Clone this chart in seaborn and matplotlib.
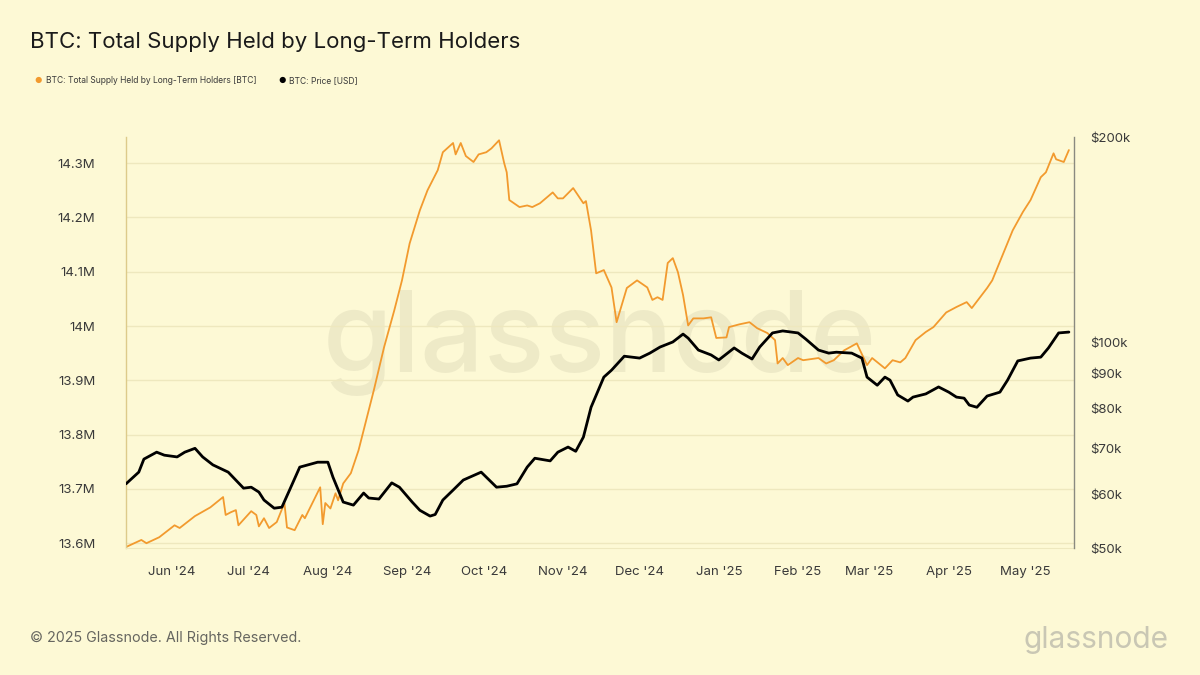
import pandas as pd
import numpy as np
import matplotlib
matplotlib.use("Agg")
import matplotlib.pyplot as plt
import matplotlib.dates as mdates
from matplotlib.ticker import FixedLocator, FixedFormatter, NullLocator
import seaborn as sns

# --- data ---
lth_dates = [
    "2024-05-14", "2024-05-20", "2024-05-22", "2024-05-27", "2024-06-02", "2024-06-04",
    "2024-06-10", "2024-06-16", "2024-06-21", "2024-06-22", "2024-06-24", "2024-06-26",
    "2024-06-27", "2024-07-02", "2024-07-04", "2024-07-05", "2024-07-07", "2024-07-09",
    "2024-07-12", "2024-07-15", "2024-07-16", "2024-07-19", "2024-07-22", "2024-07-23",
    "2024-07-29", "2024-07-30", "2024-07-31", "2024-08-02", "2024-08-04", "2024-08-05",
    "2024-08-07", "2024-08-10", "2024-08-13", "2024-08-15", "2024-08-19", "2024-08-23",
    "2024-08-27", "2024-08-30", "2024-09-02", "2024-09-06", "2024-09-09", "2024-09-13",
    "2024-09-15", "2024-09-19", "2024-09-20", "2024-09-22", "2024-09-24", "2024-09-27",
    "2024-09-29", "2024-10-02", "2024-10-04", "2024-10-07", "2024-10-09", "2024-10-10",
    "2024-10-11", "2024-10-15", "2024-10-18", "2024-10-20", "2024-10-23", "2024-10-28",
    "2024-10-30", "2024-11-01", "2024-11-05", "2024-11-09", "2024-11-10", "2024-11-12",
    "2024-11-14", "2024-11-17", "2024-11-20", "2024-11-22", "2024-11-26", "2024-11-30",
    "2024-12-04", "2024-12-06", "2024-12-08", "2024-12-10", "2024-12-12", "2024-12-14",
    "2024-12-16", "2024-12-18", "2024-12-20", "2024-12-22", "2024-12-26", "2024-12-29",
    "2024-12-31", "2025-01-04", "2025-01-05", "2025-01-09", "2025-01-13", "2025-01-16",
    "2025-01-20", "2025-01-23", "2025-01-24", "2025-01-26", "2025-01-28", "2025-02-01",
    "2025-02-03", "2025-02-09", "2025-02-12", "2025-02-15", "2025-02-19", "2025-02-24",
    "2025-02-28", "2025-03-02", "2025-03-07", "2025-03-10", "2025-03-13", "2025-03-15",
    "2025-03-19", "2025-03-23", "2025-03-26", "2025-03-31", "2025-04-04", "2025-04-08",
    "2025-04-10", "2025-04-16", "2025-04-18", "2025-04-22", "2025-04-26", "2025-04-30",
    "2025-05-03", "2025-05-07", "2025-05-09", "2025-05-12", "2025-05-13", "2025-05-16",
    "2025-05-18",
]
lth_supply_m = [
    13.593, 13.606, 13.600, 13.611, 13.633, 13.628,
    13.650, 13.666, 13.685, 13.652, 13.657, 13.661,
    13.633, 13.659, 13.652, 13.631, 13.646, 13.628,
    13.639, 13.674, 13.629, 13.624, 13.652, 13.646,
    13.703, 13.635, 13.674, 13.664, 13.692, 13.679,
    13.710, 13.729, 13.771, 13.808, 13.882, 13.961,
    14.029, 14.084, 14.152, 14.213, 14.250, 14.287,
    14.320, 14.337, 14.316, 14.337, 14.313, 14.302,
    14.316, 14.320, 14.327, 14.342, 14.300, 14.283,
    14.232, 14.219, 14.222, 14.219, 14.226, 14.246,
    14.235, 14.235, 14.254, 14.226, 14.230, 14.176,
    14.097, 14.103, 14.071, 14.007, 14.070, 14.084,
    14.071, 14.048, 14.053, 14.048, 14.116, 14.125,
    14.099, 14.057, 14.001, 14.014, 14.014, 14.016,
    13.978, 13.979, 13.998, 14.003, 14.007, 13.996,
    13.987, 13.974, 13.931, 13.941, 13.928, 13.941,
    13.937, 13.941, 13.931, 13.937, 13.955, 13.968,
    13.928, 13.941, 13.922, 13.937, 13.933, 13.941,
    13.974, 13.989, 13.998, 14.025, 14.035, 14.044,
    14.033, 14.070, 14.084, 14.130, 14.176, 14.210,
    14.232, 14.274, 14.283, 14.318, 14.307, 14.302,
    14.324,
]

price_dates = [
    "2024-05-14", "2024-05-19", "2024-05-21", "2024-05-26", "2024-05-29", "2024-06-03",
    "2024-06-06", "2024-06-10", "2024-06-13", "2024-06-17", "2024-06-23", "2024-06-29",
    "2024-07-02", "2024-07-05", "2024-07-07", "2024-07-11", "2024-07-14", "2024-07-17",
    "2024-07-21", "2024-07-28", "2024-08-01", "2024-08-03", "2024-08-07", "2024-08-11",
    "2024-08-15", "2024-08-17", "2024-08-21", "2024-08-26", "2024-08-29", "2024-09-03",
    "2024-09-06", "2024-09-10", "2024-09-12", "2024-09-15", "2024-09-19", "2024-09-23",
    "2024-09-30", "2024-10-06", "2024-10-10", "2024-10-14", "2024-10-18", "2024-10-21",
    "2024-10-27", "2024-10-30", "2024-11-03", "2024-11-06", "2024-11-09", "2024-11-12",
    "2024-11-17", "2024-11-20", "2024-11-25", "2024-12-01", "2024-12-05", "2024-12-09",
    "2024-12-14", "2024-12-18", "2024-12-20", "2024-12-24", "2024-12-29", "2025-01-01",
    "2025-01-07", "2025-01-10", "2025-01-14", "2025-01-17", "2025-01-22", "2025-01-26",
    "2025-02-01", "2025-02-04", "2025-02-09", "2025-02-13", "2025-02-16", "2025-02-22",
    "2025-02-26", "2025-02-28", "2025-03-04", "2025-03-07", "2025-03-09", "2025-03-12",
    "2025-03-16", "2025-03-18", "2025-03-23", "2025-03-28", "2025-04-01", "2025-04-04",
    "2025-04-07", "2025-04-09", "2025-04-12", "2025-04-16", "2025-04-21", "2025-04-24",
    "2025-04-28", "2025-05-03", "2025-05-07", "2025-05-10", "2025-05-14", "2025-05-18",
]
price_k = [
    62.1, 64.6, 67.5, 69.1, 68.4, 68.0,
    69.1, 70.0, 68.0, 66.2, 64.6, 61.2,
    61.4, 60.4, 58.8, 57.2, 57.4, 60.8,
    65.7, 66.8, 66.8, 63.5, 58.4, 57.8,
    60.2, 59.2, 59.0, 62.3, 61.4, 58.4,
    56.8, 55.7, 56.0, 58.8, 60.8, 62.9,
    64.6, 61.4, 61.6, 62.1, 65.7, 67.7,
    67.1, 69.1, 70.3, 69.3, 72.7, 80.4,
    89.0, 91.1, 95.5, 94.9, 96.5, 98.5,
    100.2, 102.9, 101.5, 97.5, 95.9, 94.3,
    98.2, 96.5, 94.6, 98.5, 103.3, 104.0,
    103.3, 101.2, 97.5, 96.5, 96.8, 96.5,
    94.9, 89.0, 86.6, 89.0, 88.1, 83.8,
    82.1, 83.2, 84.1, 86.1, 84.6, 83.2,
    82.9, 81.0, 80.4, 83.5, 84.6, 88.1,
    94.0, 94.9, 95.2, 98.2, 103.3, 103.6,
]

left_ticks = [13.6, 13.7, 13.8, 13.9, 14.0, 14.1, 14.2, 14.3]
left_labels = ["13.6M", "13.7M", "13.8M", "13.9M", "14M", "14.1M", "14.2M", "14.3M"]
right_ticks = [50, 60, 70, 80, 90, 100, 200]
right_labels = ["$50k", "$60k", "$70k", "$80k", "$90k", "$100k", "$200k"]

title = "BTC: Total Supply Held by Long-Term Holders"
legend_lth = "BTC: Total Supply Held by Long-Term Holders [BTC]"
legend_price = "BTC: Price [USD]"

lth = pd.DataFrame({"date": pd.to_datetime(lth_dates), "supply": lth_supply_m})
price = pd.DataFrame({"date": pd.to_datetime(price_dates), "price": price_k})

# --- style ---
BG = "#FDF9D5"
ORANGE = "#F29A2E"
TXT = "#3a3a3a"

sns.set_style("white")
plt.rcParams["font.family"] = ["Inter", "DejaVu Sans"]

fig = plt.figure(figsize=(12, 6.75), dpi=100, facecolor=BG)
ax = fig.add_axes([0.105, 0.188, 0.79, 0.609])
ax.set_facecolor(BG)
ax2 = ax.twinx()

sns.lineplot(data=lth, x="date", y="supply", ax=ax, color=ORANGE, linewidth=1.3)
sns.lineplot(data=price, x="date", y="price", ax=ax2, color="black", linewidth=2.0)

ax.set_xlim(pd.Timestamp("2024-05-14"), pd.Timestamp("2025-05-20"))
ax.set_ylim(13.591, 14.348)
ax2.set_yscale("log")
ax2.set_ylim(50, 200)

ax.yaxis.set_major_locator(FixedLocator(left_ticks))
ax.yaxis.set_major_formatter(FixedFormatter(left_labels))
ax2.yaxis.set_major_locator(FixedLocator(right_ticks))
ax2.yaxis.set_major_formatter(FixedFormatter(right_labels))
ax2.yaxis.set_minor_locator(NullLocator())

ax.xaxis.set_major_locator(mdates.MonthLocator())
ax.xaxis.set_major_formatter(mdates.DateFormatter("%b '%y"))

ax.grid(axis="y", color="#EEE8BE", linewidth=1.0)
ax.grid(axis="x", visible=False)
ax.set_axisbelow(True)

for a in (ax, ax2):
    a.set_xlabel("")
    a.set_ylabel("")
    for s in ("top", "bottom", "left", "right"):
        a.spines[s].set_visible(False)

ax.spines["left"].set_visible(True)
ax.spines["left"].set_color("#DDCB8A")
ax.spines["left"].set_linewidth(1.0)
ax2.spines["right"].set_visible(True)
ax2.spines["right"].set_color("#8a8a80")
ax2.spines["right"].set_linewidth(1.0)
ax.spines["bottom"].set_visible(True)
ax.spines["bottom"].set_color("#EEE8BE")

ax.tick_params(axis="y", length=0, pad=22, labelsize=9.5, labelcolor=TXT)
ax2.tick_params(axis="y", length=0, pad=12, labelsize=9.5, labelcolor=TXT)
ax.tick_params(axis="x", length=7, width=1, color="#E6E0B8", pad=6, labelsize=9.5, labelcolor=TXT)

# watermark
ax.text(0.5, 0.5, "glassnode", transform=ax.transAxes, ha="center", va="center",
        fontsize=81, fontweight="medium", color="#8c8870", alpha=0.13, zorder=0)

# title, legend, footer
fig.text(0.025, 0.938, title, fontsize=16, color="#1a1a1a", ha="left", va="center")
fig.text(0.032, 0.881, "\u25CF", fontsize=6, color=ORANGE, ha="center", va="center")
fig.text(0.038, 0.881, legend_lth, fontsize=6.1, color=TXT, ha="left", va="center")
fig.text(0.235, 0.881, "\u25CF", fontsize=6, color="black", ha="center", va="center")
fig.text(0.241, 0.881, legend_price, fontsize=6.1, color=TXT, ha="left", va="center")

fig.text(0.025, 0.055, "\u00A9 2025 Glassnode. All Rights Reserved.", fontsize=10.3,
         color="#666660", ha="left", va="center")
fig.text(0.974, 0.052, "glassnode", fontsize=21.5, color="#C9C7B4", ha="right", va="center")

fig.savefig("out.png", dpi=100, facecolor=BG)
